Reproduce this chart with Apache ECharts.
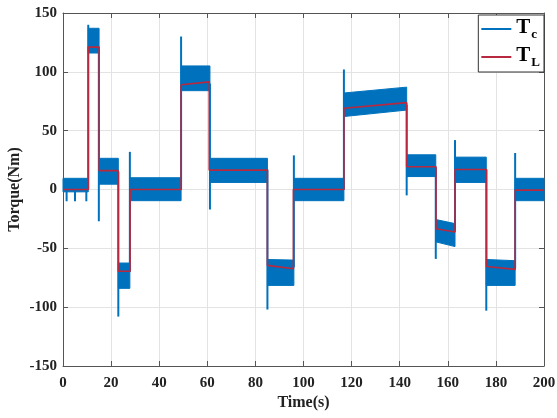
<!DOCTYPE html>
<html>
<head>
<meta charset="utf-8">
<script src="https://cdn.jsdelivr.net/npm/echarts@6/dist/echarts.min.js"></script>
<style>html,body{margin:0;padding:0;background:#fff;}#c{width:557px;height:418px;}</style>
</head>
<body>
<div id="c"></div>
<script>
// x ticks / y ticks
var xTicks = [0, 20, 40, 60, 80, 100, 120, 140, 160, 180, 200];
var yTicks = [-150, -100, -50, 0, 50, 100, 150];

// Tc noisy band per segment (time start/end, envelope top/bottom at start/end)
var bandStart = [0, 10.5, 15.0, 23.0, 27.8, 49.1, 61.1, 85.0, 96.0, 116.8, 142.9, 155.0, 163.0, 176.0, 188.0];
var bandEnd   = [10.5, 15.0, 23.0, 27.8, 49.1, 61.1, 85.0, 96.0, 116.8, 142.9, 155.0, 163.0, 176.0, 188.0, 200];
var topStart  = [9.5, 137, 26.5, -62.5, 10, 105, 26.5, -59.5, 9.5, 82, 29.5, -25.5, 27.5, -59.5, 9.5];
var topEnd    = [9.5, 137, 26.5, -62.5, 10, 105, 26.5, -60, 9.5, 87, 29.5, -29, 27.5, -60.5, 9.5];
var botStart  = [-2, 116, 4.5, -84, -9.5, 84, 6, -81.5, -9.5, 62, 11, -44.5, 6, -81.5, -9.5];
var botEnd    = [-2, 116, 4.5, -84, -9.5, 84, 6, -81.5, -9.5, 67.5, 11, -48.5, 6, -81.5, -9.5];

// Tc transient spikes (time, from, to)
var spikeT    = [1.5, 5, 9.7, 10.5, 14.9, 23.0, 27.8, 49.1, 61.1, 85.0, 96.0, 116.8, 142.9, 155.0, 163.0, 176.0, 188.0];
var spikeFrom = [0, 0, 0, 0, 120, 15, -70, 0, 90, 17, -66, 0, 72, 18, -35, 17, -67];
var spikeTo   = [-10, -10, -10, 140, -27, -108, 32, 130, -17, -102, 29, 102, -5, -59, 42, -103, 31];

// TL load torque steps
var tlStart    = [0, 10.5, 15.0, 23.0, 27.9, 49.1, 60.8, 85.0, 95.8, 116.8, 142.9, 155.1, 163.0, 176.1, 188.0];
var tlEnd      = [10.5, 15.0, 23.0, 27.9, 49.1, 60.8, 85.0, 95.8, 116.8, 142.9, 155.1, 163.0, 176.1, 188.0, 200];
var tlValStart = [0, 121, 16, -69.5, 0, 89, 16.5, -64.5, 0, 69, 19.3, -33.3, 17, -65.4, -0.5];
var tlValEnd   = [0, 121, 16, -69.5, 0, 91.5, 16.5, -67.3, 0, 73.8, 19.3, -36.1, 17, -67.9, -0.5];

var BLUE = '#0072BD', RED = '#B8283E';
var FONT = 'Liberation Serif';

var bandData = bandStart.map(function (s, i) {
  return [s, bandEnd[i], topStart[i], topEnd[i], botStart[i], botEnd[i]];
});
var spikeData = spikeT.map(function (t, i) { return [t, spikeFrom[i], spikeTo[i]]; });
var tlData = [];
tlStart.forEach(function (s, i) {
  tlData.push([s, tlValStart[i]]);
  tlData.push([tlEnd[i], tlValEnd[i]]);
});

var chart = echarts.init(document.getElementById('c'), null, {renderer: 'canvas'});
function axisLine() { return {show: true, onZero: false, lineStyle: {color: '#555', width: 1}}; }
function axisTick() { return {show: true, inside: true, length: 5, lineStyle: {color: '#555'}}; }
chart.setOption({
  animation: false,
  backgroundColor: '#fff',
  grid: {left: 63, right: 13, top: 13, bottom: 52, containLabel: false, outerBoundsMode: 'none'},
  legend: {
    orient: 'vertical',
    right: 13, top: 15,
    backgroundColor: '#fff',
    borderColor: '#333', borderWidth: 1, borderRadius: 0,
    padding: [2, 4, 3, 3],
    itemGap: 4,
    itemWidth: 30, itemHeight: 2,
    data: [{name: 'Tc', icon: 'rect'}, {name: 'TL', icon: 'rect'}],
    formatter: function (n) { return n === 'Tc' ? '{t|T}{s|c}' : '{t|T}{s|L}'; },
    textStyle: {
      fontFamily: FONT, fontWeight: 'bold', color: '#000',
      rich: {
        t: {fontFamily: FONT, fontWeight: 'bold', fontSize: 21, lineHeight: 24, verticalAlign: 'top'},
        s: {fontFamily: FONT, fontWeight: 'bold', fontSize: 13, lineHeight: 13, verticalAlign: 'bottom', padding: [0, 0, 0, 1]}
      }
    }
  },
  xAxis: [
    {
      type: 'value', min: 0, max: 200, interval: 20, position: 'bottom',
      axisLine: axisLine(), axisTick: axisTick(),
      name: 'Time(s)', nameLocation: 'middle', nameGap: 29, nameMoveOverlap: false,
      nameTextStyle: {fontFamily: FONT, fontWeight: 'bold', fontSize: 16, color: '#222'},
      axisLabel: {fontFamily: FONT, fontWeight: 'bold', fontSize: 15, color: '#222', margin: 10},
      splitLine: {show: true, lineStyle: {color: '#e3e3e3', width: 1}}
    },
    {
      type: 'value', min: 0, max: 200, interval: 20, position: 'top',
      axisLine: axisLine(), axisTick: axisTick(),
      axisLabel: {show: false}, splitLine: {show: false}
    }
  ],
  yAxis: [
    {
      type: 'value', min: -150, max: 150, interval: 50, position: 'left',
      axisLine: axisLine(), axisTick: axisTick(),
      name: 'Torque(Nm)', nameLocation: 'middle', nameGap: 40, nameMoveOverlap: false,
      nameTextStyle: {fontFamily: FONT, fontWeight: 'bold', fontSize: 16, color: '#222'},
      axisLabel: {fontFamily: FONT, fontWeight: 'bold', fontSize: 15, color: '#222', margin: 6},
      splitLine: {show: true, lineStyle: {color: '#e3e3e3', width: 1}}
    },
    {
      type: 'value', min: -150, max: 150, interval: 50, position: 'right',
      axisLine: axisLine(), axisTick: axisTick(),
      axisLabel: {show: false}, splitLine: {show: false}
    }
  ],
  series: [
    {
      name: 'Tc', type: 'custom', xAxisIndex: 0, yAxisIndex: 0,
      itemStyle: {color: BLUE},
      data: bandData,
      encode: {x: [0, 1], y: [2, 3, 4, 5]},
      renderItem: function (params, api) {
        var p1 = api.coord([api.value(0), api.value(2)]);
        var p2 = api.coord([api.value(1), api.value(3)]);
        var p3 = api.coord([api.value(1), api.value(5)]);
        var p4 = api.coord([api.value(0), api.value(4)]);
        return {type: 'polygon', shape: {points: [p1, p2, p3, p4]},
          style: {fill: BLUE, stroke: BLUE, lineWidth: 1}};
      },
      z: 2
    },
    {
      name: 'Tc', type: 'custom', xAxisIndex: 0, yAxisIndex: 0,
      itemStyle: {color: BLUE},
      data: spikeData,
      encode: {x: 0, y: [1, 2]},
      renderItem: function (params, api) {
        var a = api.coord([api.value(0), api.value(1)]);
        var b = api.coord([api.value(0), api.value(2)]);
        return {type: 'line', shape: {x1: a[0], y1: a[1], x2: b[0], y2: b[1]},
          style: {stroke: BLUE, lineWidth: 2}};
      },
      z: 2
    },
    {
      name: 'TL', type: 'line', xAxisIndex: 0, yAxisIndex: 0,
      data: tlData, showSymbol: false, symbol: 'none',
      lineStyle: {color: RED, width: 1.6},
      itemStyle: {color: RED},
      z: 5
    }
  ]
});
</script>
</body>
</html>
